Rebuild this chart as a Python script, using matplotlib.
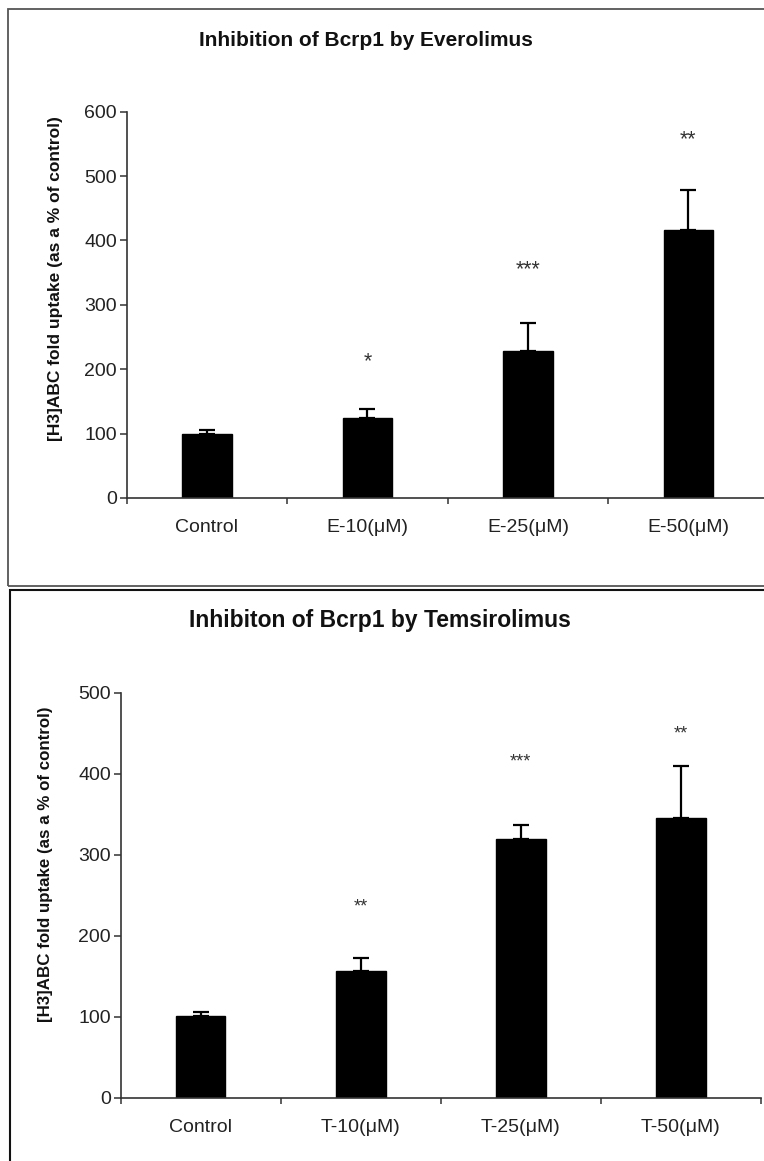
import numpy as np
import matplotlib
matplotlib.use("Agg")
import matplotlib.pyplot as plt
from matplotlib.patches import Rectangle

plt.rcParams['font.family'] = ['Liberation Sans', 'DejaVu Sans']

# Everolimus panel
evero_labels = ["Control", "E-10(μM)", "E-25(μM)", "E-50(μM)"]
evero_mean = [100, 124, 229, 417]
evero_err = [6, 14, 43, 62]
evero_sig = ["", "*", "***", "**"]
evero_sig_y = [0, 212, 355, 557]

# Temsirolimus panel
temsi_labels = ["Control", "T-10(μM)", "T-25(μM)", "T-50(μM)"]
temsi_mean = [101, 157, 320, 345]
temsi_err = [5, 16, 17, 65]
temsi_sig = ["", "**", "***", "**"]
temsi_sig_y = [0, 236, 415, 449]

W, H = 764, 1161
fig = plt.figure(figsize=(W / 100, H / 100), dpi=100)


def px_axes(left, top, right, bottom):
    return fig.add_axes([left / W, 1 - bottom / H, (right - left) / W, (bottom - top) / H])


def draw_panel(ax, labels, mean, err, sig, sig_y, ymax, star_size):
    x = np.arange(len(labels))
    ax.bar(x, mean, width=0.31, color="black", edgecolor="black",
           yerr=[np.zeros(len(err)), err], capsize=5.5,
           error_kw=dict(elinewidth=1.6, capthick=1.6, ecolor="black"))
    for xi, s, sy in zip(x, sig, sig_y):
        if s:
            ax.text(xi, sy, s, ha="center", va="center", fontsize=star_size, color="#333333")
    ax.set_xlim(-0.5, len(labels) - 0.5)
    ax.set_ylim(0, ymax)
    ax.set_yticks(np.arange(0, ymax + 1, 100))
    ax.set_xticks(np.arange(len(labels) + 1) - 0.5)
    ax.set_xticklabels([])
    ax.set_xticks(x, minor=True)
    ax.set_xticklabels(labels, minor=True)
    ax.tick_params(axis="x", which="major", direction="out", length=4, width=1.1, color="#333333")
    ax.tick_params(axis="x", which="minor", length=0, pad=15, labelsize=14, labelcolor="#222222")
    ax.tick_params(axis="y", direction="out", length=5, width=1.1, pad=2,
                   labelsize=14, labelcolor="#222222", color="#333333")
    for side in ("top", "right"):
        ax.spines[side].set_visible(False)
    for side in ("left", "bottom"):
        ax.spines[side].set_linewidth(1.2)
        ax.spines[side].set_color("#333333")


# panel frames
fig.add_artist(Rectangle((8 / W, 1 - 586 / H), 780 / W, 577 / H, transform=fig.transFigure,
                         fill=False, ec="#555555", lw=1.3))
fig.add_artist(Rectangle((10 / W, 1 - 1175 / H), 780 / W, 585 / H, transform=fig.transFigure,
                         fill=False, ec="#111111", lw=1.5))

ax1 = px_axes(126.7, 111.7, 768.7, 498)
draw_panel(ax1, evero_labels, evero_mean, evero_err, evero_sig, evero_sig_y, 600, 15.5)
fig.text(366 / W, 1 - 40 / H, "Inhibition of Bcrp1 by Everolimus", ha="center", va="center",
         fontsize=15, fontweight="bold", color="#111111")
fig.text(56 / W, 1 - 279 / H, "[H3]ABC fold uptake (as a % of control)", rotation=90,
         ha="center", va="center", fontsize=12.5, fontweight="bold", color="#111111")

ax2 = px_axes(120.7, 692.7, 760.7, 1097.7)
draw_panel(ax2, temsi_labels, temsi_mean, temsi_err, temsi_sig, temsi_sig_y, 500, 13)
fig.text(380 / W, 1 - 621 / H, "Inhibiton of Bcrp1 by Temsirolimus", ha="center", va="center",
         fontsize=16.5, fontweight="bold", color="#111111")
fig.text(46 / W, 1 - 864 / H, "[H3]ABC fold uptake (as a % of control)", rotation=90,
         ha="center", va="center", fontsize=12.2, fontweight="bold", color="#111111")

fig.savefig("out.png", dpi=100)
